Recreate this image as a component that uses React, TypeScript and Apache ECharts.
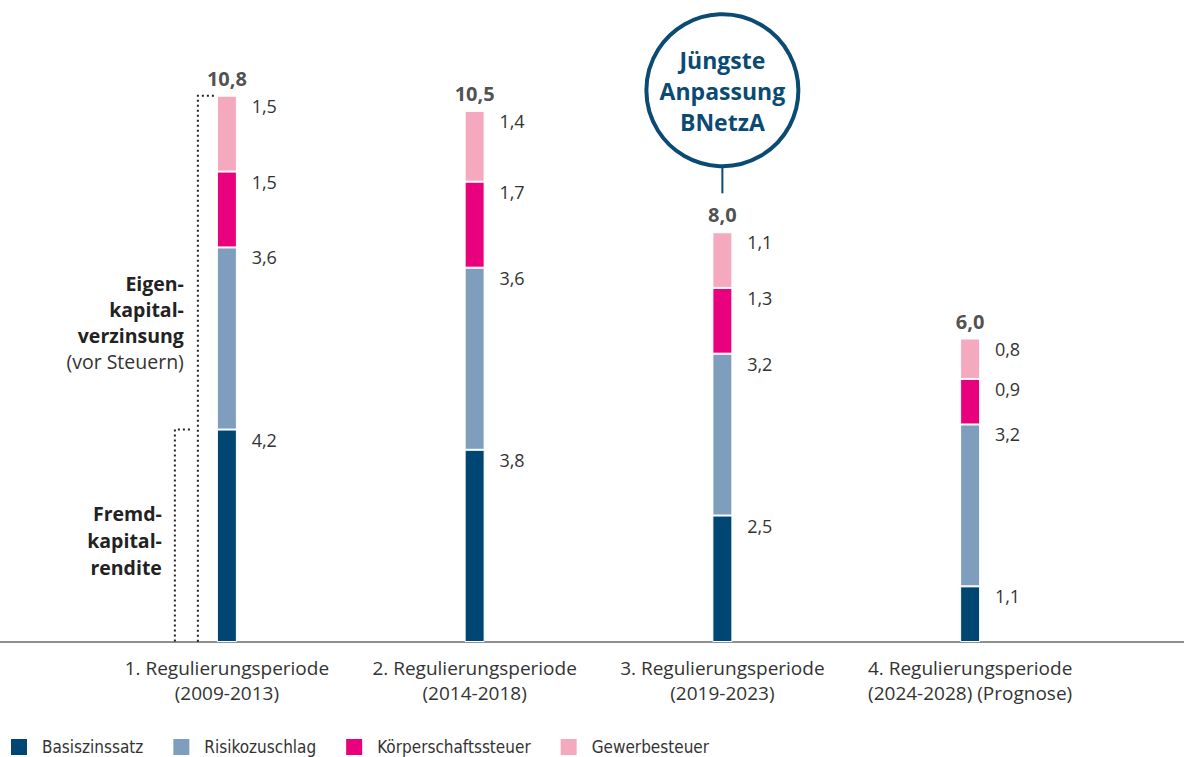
import React, { useEffect, useRef } from "react";
import * as echarts from "echarts";

const categories = [
  "1. Regulierungsperiode\n(2009-2013)",
  "2. Regulierungsperiode\n(2014-2018)",
  "3. Regulierungsperiode\n(2019-2023)",
  "4. Regulierungsperiode\n(2024-2028) (Prognose)",
];
const seriesNames = ["Basiszinssatz", "Risikozuschlag", "Körperschaftssteuer", "Gewerbesteuer"];
const basis = [4.2, 3.8, 2.5, 1.1];
const risiko = [3.6, 3.6, 3.2, 3.2];
const kst = [1.5, 1.7, 1.3, 0.9];
const gew = [1.5, 1.4, 1.1, 0.8];
const totalLabels = ["10,8", "10,5", "8,0", "6,0"];
const colors = ["#004672", "#7f9dbd", "#e8007d", "#f5a9bf"];

const FONT = "'Open Sans', Roboto, sans-serif";

export default function App() {
  const ref = useRef<HTMLDivElement>(null);
  useEffect(() => {
    if (!ref.current) return;
    const chart = echarts.init(ref.current, null, { renderer: "svg" });
    const data = [basis, risiko, kst, gew];
    const sums = categories.map((_, i) => data.reduce((s, arr) => s + arr[i], 0));
    const fmt = (v: number) => v.toFixed(1).replace(".", ",");

    const barSeries = data.map((arr, k) => ({
      name: seriesNames[k],
      type: "bar",
      stack: "total",
      barWidth: 20,
      data: arr,
      itemStyle: { color: colors[k], borderColor: "#ffffff", borderWidth: 1 },
      label: {
        show: true,
        position: [60, 10],
        align: "right",
        verticalAlign: "middle",
        fontFamily: FONT,
        fontSize: 18,
        color: "#333333",
        formatter: (p: any) => fmt(p.value),
      },
    }));

    chart.setOption({
      animation: false,
      grid: { left: 103, right: 90, top: 35, bottom: 115 },
      xAxis: {
        type: "category",
        data: categories,
        axisLine: { show: false },
        axisTick: { show: false },
        axisLabel: {
          fontFamily: FONT,
          fontSize: 19,
          lineHeight: 25,
          color: "#333333",
          margin: 13,
          interval: 0,
        },
      },
      yAxis: { type: "value", min: 0, max: 12, show: false, splitLine: { show: false } },
      legend: {
        data: seriesNames,
        left: 9,
        top: 737,
        padding: 0,
        icon: "rect",
        itemWidth: 18,
        itemHeight: 18,
        itemGap: 28,
        textStyle: {
          fontFamily: "'DejaVu Sans Condensed', Roboto, sans-serif",
          fontSize: 17,
          lineHeight: 18,
          color: "#333333",
          padding: [0, 0, 0, 9],
        },
      },
      series: [
        ...barSeries,
        {
          name: "total",
          type: "scatter",
          data: sums.map((s, i) => [i, s]),
          symbolSize: 1,
          itemStyle: { color: "transparent" },
          label: {
            show: true,
            position: "top",
            distance: 7,
            fontFamily: FONT,
            fontSize: 20,
            fontWeight: "bold",
            color: "#222222",
            formatter: (p: any) => totalLabels[p.dataIndex],
          },
          silent: true,
        },
      ],
    });

    const px = (i: number, v: number) =>
      chart.convertToPixel({ xAxisIndex: 0, yAxisIndex: 0 }, [i, v]) as number[];
    const [cx0, yTop0] = px(0, sums[0]);
    const [, yBase0] = px(0, basis[0]);
    const [, y0] = px(0, 0);
    const [cx2, yTop2] = px(2, sums[2]);
    const dotted = { stroke: "#222222", lineWidth: 2, lineDash: [2, 3], fill: "none" };

    const circleR = 76;
    const circleCy = yTop2 - 66 - circleR;

    chart.setOption({
      graphic: [
        {
          type: "line",
          shape: { x1: 0, y1: y0, x2: 1184, y2: y0 },
          style: { stroke: "#6b6b6b", lineWidth: 1.5 },
          silent: true,
        },
        {
          type: "polyline",
          shape: { points: [[cx0 - 13, yTop0], [cx0 - 29, yTop0], [cx0 - 29, y0]] },
          style: dotted,
          silent: true,
        },
        {
          type: "polyline",
          shape: { points: [[cx0 - 37, yBase0], [cx0 - 52, yBase0], [cx0 - 52, y0]] },
          style: dotted,
          silent: true,
        },
        {
          type: "text",
          x: cx0 - 43,
          y: 322,
          style: {
            text: "{b|Eigen-}\n{b|kapital-}\n{b|verzinsung}\n{r|(vor Steuern)}",
            align: "right",
            verticalAlign: "middle",
            rich: {
              b: { fontFamily: FONT, fontSize: 19.5, fontWeight: "bold", fill: "#222222", lineHeight: 26, align: "right" },
              r: { fontFamily: FONT, fontSize: 19.5, fill: "#333333", lineHeight: 26, align: "right" },
            },
          },
          silent: true,
        },
        {
          type: "text",
          x: cx0 - 65,
          y: 540,
          style: {
            text: "Fremd-\nkapital-\nrendite",
            align: "right",
            verticalAlign: "middle",
            fontFamily: FONT,
            fontSize: 19.5,
            fontWeight: "bold",
            fill: "#222222",
            lineHeight: 27,
          },
          silent: true,
        },
        {
          type: "circle",
          shape: { cx: cx2, cy: circleCy, r: circleR },
          style: { fill: "#ffffff", stroke: "#0a4a73", lineWidth: 4 },
          silent: true,
        },
        {
          type: "line",
          shape: { x1: cx2, y1: circleCy + circleR, x2: cx2, y2: yTop2 - 39 },
          style: { stroke: "#0a4a73", lineWidth: 2 },
          silent: true,
        },
        {
          type: "text",
          x: cx2,
          y: circleCy + 1,
          style: {
            text: "Jüngste\nAnpassung\nBNetzA",
            align: "center",
            verticalAlign: "middle",
            fontFamily: FONT,
            fontSize: 23,
            fontWeight: "bold",
            fill: "#0a4a73",
            lineHeight: 31,
          },
          silent: true,
        },
      ],
    });

    return () => chart.dispose();
  }, []);
  return (
    <div
      ref={ref}
      style={{ position: "fixed", left: 0, top: 0, width: 1184, height: 757, background: "#ffffff" }}
    />
  );
}
